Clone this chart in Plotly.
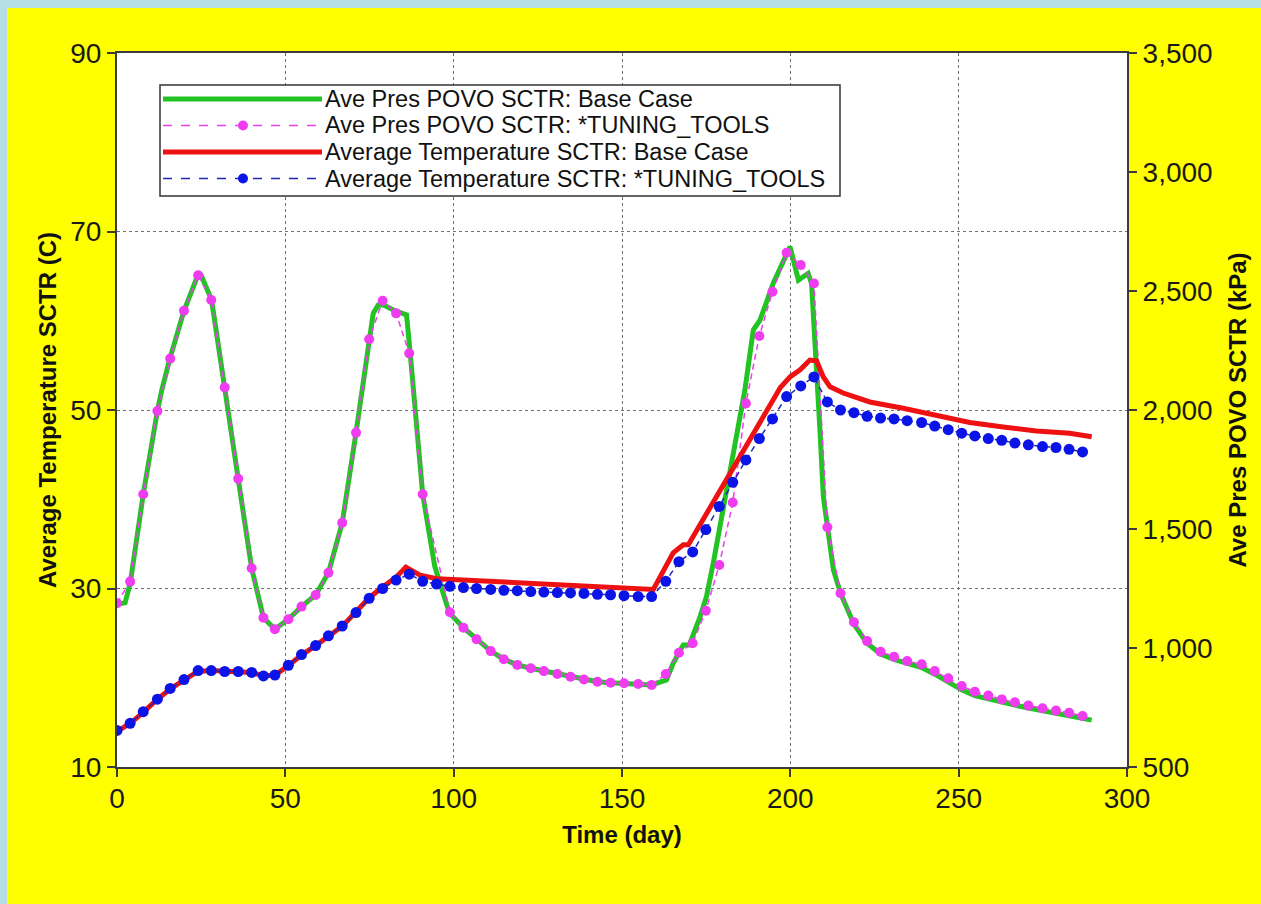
import plotly.graph_objects as go

# ---------------------------------------------------------------- data
# Average pressure, base case (kPa)
p_base_day = [0, 2.4, 3.9, 7.8, 12, 13.3, 15.7, 19.9, 24.0, 25.0, 28.1, 32.1, 36, 40,
              43.5, 46.9, 50.9, 54.8, 59, 62.8, 66.9, 71, 74.9, 76.1, 77.6, 79.2, 82.1,
              86, 87, 90.8, 94.4, 98.7, 102.9, 106.8, 111, 114.9, 118.9, 122.9, 126.8,
              130.8, 134.7, 138.7, 142.7, 146.6, 150.6, 154.8, 158.8, 163.2, 165.2,
              168.2, 170, 173.2, 175.1, 177.1, 181.1, 185, 186.5, 189, 191, 194.9,
              198.9, 199.9, 202.4, 205.3, 206.3, 207.8, 208.8, 209.8, 211, 212.8,
              214.9, 218.9, 222.8, 226.8, 230.8, 234.7, 239, 242.9, 246.9, 250.9,
              254.8, 258.8, 262.8, 266.7, 270.7, 274.9, 278.9, 282.8, 286.8, 289.5]
p_base_kpa = [1185, 1190, 1270, 1646, 1996, 2084, 2216, 2417, 2566, 2566, 2462, 2095, 1711, 1335,
              1127, 1079, 1121, 1174, 1223, 1316, 1526, 1905, 2297, 2406, 2441, 2441, 2420,
              2400, 2252, 1646, 1342, 1148, 1085, 1037, 987, 953, 929, 915, 903,
              891, 879, 868, 858, 854, 852, 849, 845, 866, 936,
              1013, 1013, 1132, 1216, 1356, 1664, 1972, 2084, 2336, 2378, 2532,
              2658, 2686, 2546, 2574, 2532, 2196, 1916, 1636, 1496, 1328,
              1230, 1100, 1020, 975, 952, 935, 918, 890, 858, 824,
              800, 785, 771, 760, 748, 736, 726, 716, 704, 697]

# Average pressure, *TUNING_TOOLS (kPa)
p_tune_day = [0, 3.9, 7.8, 12, 15.8, 19.9, 24.1, 28, 32, 36, 40, 43.5, 46.9, 50.9, 54.8, 59,
              62.8, 66.9, 71, 74.9, 78.9, 82.9, 86.8, 90.8, 98.9, 102.9, 106.8, 111,
              114.9, 118.9, 122.9, 126.8, 130.8, 134.7, 138.7, 142.7, 146.6, 150.6, 154.8,
              158.8, 163, 166.9, 171, 174.9, 178.9, 182.9, 186.8, 190.8, 194.7, 198.9,
              203.1, 207, 211, 214.9, 218.9, 222.8, 226.8, 230.8, 234.7, 239, 242.9,
              246.9, 250.9, 254.8, 258.8, 262.8, 266.7, 270.7, 274.9, 278.9, 282.8, 286.8]
p_tune_kpa = [1188, 1279, 1646, 1996, 2216, 2417, 2566, 2462, 2095, 1711, 1335, 1127, 1079, 1121,
              1174, 1223, 1316, 1526, 1905, 2297, 2459, 2406, 2238, 1646, 1150, 1085, 1037, 987,
              953, 929, 915, 903, 891, 879, 868, 858, 854, 852, 849,
              845, 891, 980, 1020, 1157, 1349, 1611, 2028, 2311, 2497, 2661,
              2609, 2532, 1507, 1230, 1108, 1029, 984, 963, 945, 932, 903,
              873, 840, 816, 800, 784, 772, 758, 747, 737, 728, 714]

# Average temperature, base case (C)
t_base_day = [0, 4, 8, 12, 16, 20, 24, 28, 32, 36, 40, 43.5, 47, 51, 55, 59, 63, 67, 71, 75,
              79, 83, 85.8, 90, 95, 100, 130, 159.3, 165.2, 168.2, 169.7, 174.1, 180.1,
              187, 194, 197, 199.9, 202.9, 205.8, 207.8, 209.8, 211.8, 215.7, 223.6,
              233.5, 243.4, 253.3, 263.2, 273.1, 283, 289.5]
t_base_c = [14.0, 14.9, 16.2, 17.6, 18.8, 19.8, 20.7, 20.8, 20.7, 20.7, 20.6, 20.2, 20.3, 21.4,
            22.6, 23.6, 24.7, 25.8, 27.4, 29.0, 30.2, 31.3, 32.4, 31.5, 31.1, 31.0, 30.5, 29.9,
            34.0, 34.9, 34.9, 37.7, 41.6, 45.9, 50.4, 52.5, 53.7, 54.5, 55.6, 55.5, 53.7,
            52.6, 51.9, 50.9, 50.2, 49.4, 48.6, 48.1, 47.65, 47.4, 47.0]

# Average temperature, *TUNING_TOOLS (C)
t_tune_day = [0, 3.9, 7.8, 12, 15.8, 19.9, 24.1, 28, 32, 36, 40, 43.5, 46.9, 50.9, 54.8, 59,
              62.8, 66.9, 71, 74.9, 78.9, 82.9, 86.8, 90.8, 94.9, 98.9, 102.9, 106.8, 111,
              114.9, 118.9, 122.9, 126.8, 130.8, 134.7, 138.7, 142.7, 146.6, 150.6, 154.8,
              158.8, 163, 166.9, 171, 174.9, 178.9, 182.9, 186.8, 190.8, 194.7, 198.9,
              203.1, 207, 211, 214.9, 218.9, 222.8, 226.8, 230.8, 234.7, 239, 242.9,
              246.9, 250.9, 254.8, 258.8, 262.8, 266.7, 270.7, 274.9, 278.9, 282.8, 286.8]
t_tune_c = [14.1, 14.9, 16.2, 17.6, 18.8, 19.8, 20.8, 20.8, 20.7, 20.7, 20.6, 20.2, 20.3, 21.4,
            22.6, 23.6, 24.7, 25.8, 27.3, 28.9, 30.0, 30.95, 31.6, 30.8, 30.5, 30.25, 30.1, 30.0,
            29.9, 29.8, 29.75, 29.65, 29.6, 29.55, 29.5, 29.45, 29.35, 29.3, 29.2, 29.1,
            29.1, 30.8, 33.0, 34.1, 36.6, 39.2, 41.9, 44.4, 46.8, 49.0, 51.5,
            52.7, 53.7, 50.9, 50.0, 49.7, 49.3, 49.1, 49.0, 48.8, 48.6, 48.2,
            47.8, 47.4, 47.1, 46.8, 46.6, 46.3, 46.1, 45.9, 45.8, 45.6, 45.3]

names = ["Ave Pres POVO SCTR: Base Case",
         "Ave Pres POVO SCTR: *TUNING_TOOLS",
         "Average Temperature SCTR: Base Case",
         "Average Temperature SCTR: *TUNING_TOOLS"]

x_ticks = [0, 50, 100, 150, 200, 250, 300]
t_ticks = [10, 30, 50, 70, 90]
p_ticks = [500, 1000, 1500, 2000, 2500, 3000, 3500]

# ---------------------------------------------------------------- styling
W, H = 1261, 904
ML, MR, MT, MB = 117, 134, 53, 137
PW, PH = W - ML - MR, H - MT - MB

GREEN, PINK, RED, BLUE = "#22C322", "#F03CF0", "#EE1111", "#0A14E6"
FONT = "Liberation Sans, Arial, sans-serif"
AXIS_LINE = "#3a3a3a"
GRID = "#707070"


def px_x(px):
    return (px - ML) / PW


def px_y(py):
    return (H - MB - py) / PH


fig = go.Figure()

# pressure traces sit on the primary (right-hand) axis so the temperature
# curves are drawn above them
fig.add_trace(go.Scatter(x=p_base_day, y=p_base_kpa, mode="lines", name=names[0],
                         line=dict(color=GREEN, width=5), yaxis="y"))
fig.add_trace(go.Scatter(x=p_tune_day, y=p_tune_kpa, mode="lines+markers", name=names[1],
                         line=dict(color=PINK, width=1.5, dash="6px,4px"),
                         marker=dict(color=PINK, size=10), yaxis="y"))
fig.add_trace(go.Scatter(x=t_base_day, y=t_base_c, mode="lines", name=names[2],
                         line=dict(color=RED, width=5), yaxis="y2"))
fig.add_trace(go.Scatter(x=t_tune_day, y=t_tune_c, mode="lines+markers", name=names[3],
                         line=dict(color="#1E28B4", width=1.5, dash="6px,4px"),
                         marker=dict(color=BLUE, size=11), yaxis="y2"))

tick_font = dict(family=FONT, size=28, color="#1a1a1a")
title_font = dict(family=FONT, size=24, color="#111111")

fig.update_layout(
    width=W, height=H,
    margin=dict(l=ML, r=MR, t=MT, b=MB, pad=0),
    paper_bgcolor="#FFFF00",
    plot_bgcolor="#FFFFFF",
    showlegend=False,
    xaxis=dict(
        range=[0, 300], tickvals=x_ticks, ticktext=[str(v) for v in x_ticks],
        showline=True, linecolor=AXIS_LINE, linewidth=2, mirror=True,
        ticks="outside", ticklen=8, tickwidth=2, tickcolor=AXIS_LINE,
        ticklabelstandoff=-3,
        showgrid=True, gridcolor=GRID, griddash="dot", gridwidth=1,
        zeroline=False, tickfont=tick_font,
        title=dict(text="<b>Time (day)</b>", font=title_font, standoff=14),
    ),
    yaxis=dict(
        range=[500, 3500], tickvals=p_ticks, tickformat=",",
        side="right", anchor="x",
        showline=True, linecolor=AXIS_LINE, linewidth=2,
        ticks="outside", ticklen=8, tickwidth=2, tickcolor=AXIS_LINE,
        showgrid=False, zeroline=False, tickfont=tick_font,
        title=dict(text="<b>Ave Pres POVO SCTR (kPa)</b>", font=title_font, standoff=18),
    ),
    yaxis2=dict(
        range=[10, 90], tickvals=t_ticks, overlaying="y", side="left", anchor="x",
        showline=True, linecolor=AXIS_LINE, linewidth=2,
        ticks="outside", ticklen=8, tickwidth=2, tickcolor=AXIS_LINE,
        showgrid=True, gridcolor=GRID, griddash="dot", gridwidth=1,
        zeroline=False, tickfont=tick_font,
        title=dict(text="<b>Average Temperature SCTR (C)</b>", font=title_font, standoff=7),
    ),
)

# light blue frame strips along the left and top edges of the page
shapes = [
    dict(type="rect", xref="paper", yref="paper", layer="below", line=dict(width=0),
         fillcolor="#B5DDE4", x0=px_x(0), x1=px_x(7), y0=px_y(H), y1=px_y(0)),
    dict(type="rect", xref="paper", yref="paper", layer="below", line=dict(width=0),
         fillcolor="#B5DDE4", x0=px_x(0), x1=px_x(W), y0=px_y(8), y1=px_y(0)),
]

# legend box
LX0, LX1, LY0, LY1 = 160, 840, 85, 196
shapes.append(dict(type="rect", xref="paper", yref="paper", layer="above",
                   x0=px_x(LX0), x1=px_x(LX1), y0=px_y(LY1), y1=px_y(LY0),
                   fillcolor="#FFFFFF", line=dict(color="#333333", width=1.5)))

row_y = [99, 125.5, 152, 178.5]
styles = [
    dict(color=GREEN, width=5, dash="solid", dot=None),
    dict(color=PINK, width=1.5, dash="dash", dot=PINK),
    dict(color=RED, width=5, dash="solid", dot=None),
    dict(color="#1E28B4", width=1.5, dash="dash", dot=BLUE),
]
annotations = []
for name, ry, st in zip(names, row_y, styles):
    shapes.append(dict(type="line", xref="paper", yref="paper", layer="above",
                       x0=px_x(163), x1=px_x(322), y0=px_y(ry), y1=px_y(ry),
                       line=dict(color=st["color"], width=st["width"], dash=st["dash"])))
    if st["dot"]:
        shapes.append(dict(type="circle", xref="paper", yref="paper", layer="above",
                           xsizemode="pixel", ysizemode="pixel",
                           xanchor=px_x(243), yanchor=px_y(ry),
                           x0=-5, x1=5, y0=-5, y1=5,
                           fillcolor=st["dot"], line=dict(width=0)))
    annotations.append(dict(xref="paper", yref="paper", x=px_x(323), y=px_y(ry),
                            xanchor="left", yanchor="middle", showarrow=False,
                            text=name, font=dict(family=FONT, size=23.5, color="#111111")))

fig.update_layout(shapes=shapes, annotations=annotations)

fig.write_html(
    "out.html",
    post_script="document.body.style.margin='0';"
                "document.documentElement.style.overflow='hidden';"
                "document.body.style.overflow='hidden';",
)
